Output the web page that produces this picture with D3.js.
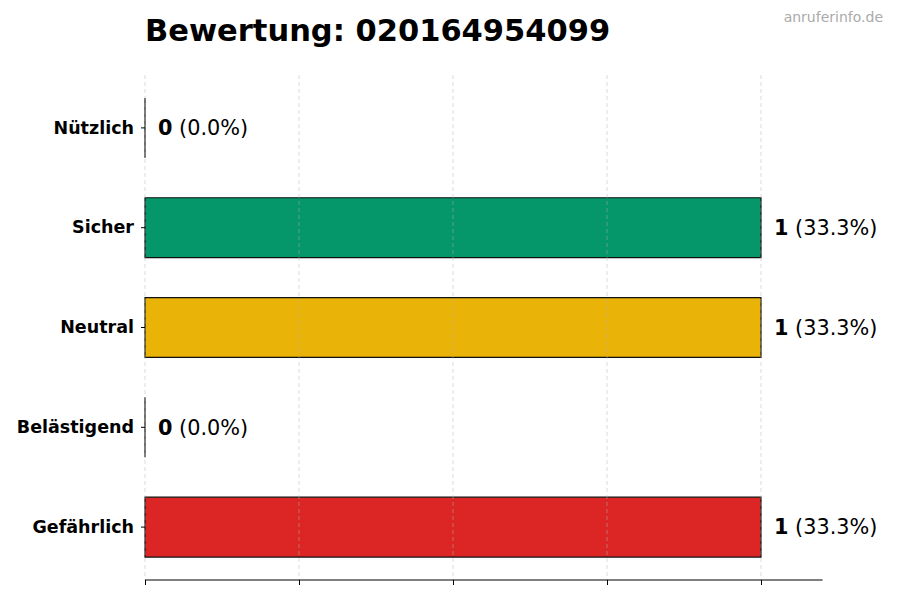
<!DOCTYPE html>
<html>
<head>
<meta charset="utf-8">
<script src="https://cdn.jsdelivr.net/npm/d3@7"></script>
<style>
  body { margin: 0; background: #fff; }
  svg { font-family: "DejaVu Sans", sans-serif; }
</style>
</head>
<body>
<svg width="900" height="600"></svg>
<script>
const categories = ["Nützlich", "Sicher", "Neutral", "Belästigend", "Gefährlich"];
const counts = [0, 1, 1, 0, 1];
const percents = ["0.0%", "33.3%", "33.3%", "0.0%", "33.3%"];
const colors = ["#2f9e44", "#059669", "#eab308", "#f97316", "#dc2626"];
const xTicks = [0, 0.25, 0.5, 0.75, 1];

const svg = d3.select("svg");

const xScale = d3.scaleLinear().domain([0, 1.1]).range([145, 822.6]);
const yScale = d3.scaleBand().domain(categories).range([78, 577])
  .paddingInner(0.4).paddingOuter(0.2);

// bars as paths so that zero-width bars still show their edge
svg.selectAll("path.bar")
  .data(categories)
  .enter()
  .append("path")
  .attr("class", "bar")
  .attr("d", (d, i) => {
    const x0 = xScale(0), w = xScale(counts[i]) - xScale(0);
    return `M${x0},${yScale(d)}h${w}v${yScale.bandwidth()}h${-w}Z`;
  })
  .attr("fill", (d, i) => colors[i])
  .attr("stroke", "#111")
  .attr("stroke-width", 1.2);

// grid (on top, faint)
svg.selectAll("line.grid")
  .data(xTicks)
  .enter()
  .append("line")
  .attr("class", "grid")
  .attr("x1", (d) => xScale(d))
  .attr("x2", (d) => xScale(d))
  .attr("y1", 75)
  .attr("y2", 580)
  .attr("stroke", "#b0b0b0")
  .attr("stroke-opacity", 0.6)
  .attr("stroke-dasharray", "4,3")
  .attr("stroke-width", 0.8);

// x axis without labels
const xAxis = d3.axisBottom(xScale).tickValues(xTicks).tickSize(5).tickFormat("");
const gx = svg.append("g").attr("transform", "translate(0,580)").call(xAxis);
gx.select(".domain").attr("stroke", "#000").attr("stroke-width", 1.2)
  .attr("d", `M${xScale(0)},0H${xScale(1.1)}`);
gx.selectAll(".tick line").attr("stroke", "#000");

// y axis labels
const yAxis = d3.axisLeft(yScale).tickSize(4).tickPadding(7);
const gy = svg.append("g").attr("transform", `translate(${xScale(0)},0)`).call(yAxis);
gy.select(".domain").remove();
gy.selectAll(".tick line").attr("stroke", "#000");
gy.selectAll(".tick text")
  .attr("font-size", 17.5)
  .attr("font-weight", "bold")
  .attr("fill", "#000")
  .attr("font-family", "DejaVu Sans");

// value labels
const labels = svg.selectAll("text.val")
  .data(categories)
  .enter()
  .append("text")
  .attr("class", "val")
  .attr("x", (d, i) => xScale(counts[i]) + 13)
  .attr("y", (d) => yScale(d) + yScale.bandwidth() / 2)
  .attr("dy", "0.35em")
  .attr("font-size", 20.8)
  .attr("fill", "#000");
labels.append("tspan").attr("font-weight", "bold").text((d, i) => counts[i]);
labels.append("tspan").text((d, i) => ` (${percents[i]})`);

// title
svg.append("text")
  .attr("x", 145)
  .attr("y", 41)
  .attr("font-size", 30.5)
  .attr("font-weight", "bold")
  .attr("fill", "#000")
  .text("Bewertung: 020164954099");

// watermark
svg.append("text")
  .attr("x", 883)
  .attr("y", 22)
  .attr("text-anchor", "end")
  .attr("font-size", 14)
  .attr("fill", "#aaa")
  .text("anruferinfo.de");
</script>
</body>
</html>
